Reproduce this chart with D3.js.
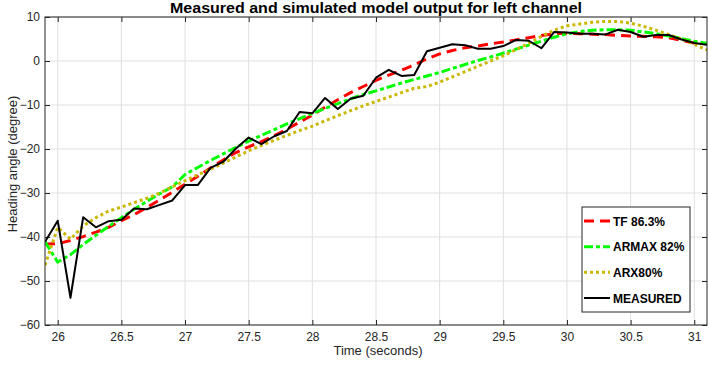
<!DOCTYPE html>
<html><head><meta charset="utf-8">
<script src="https://cdn.jsdelivr.net/npm/d3@7/dist/d3.min.js"></script>
<style>
body{margin:0;background:#fff;}
svg{display:block;font-family:"Liberation Sans",Arial,sans-serif;}
</style></head>
<body><svg id="c" width="709" height="366"></svg>
<script>
const time = [25.9,26.0,26.1,26.2,26.3,26.4,26.5,26.6,26.7,26.8,26.9,27.0,27.1,27.2,27.3,27.4,27.5,27.6,27.7,27.8,27.9,28.0,28.1,28.2,28.3,28.4,28.5,28.6,28.7,28.8,28.9,29.0,29.1,29.2,29.3,29.4,29.5,29.6,29.7,29.8,29.9,30.0,30.1,30.2,30.3,30.4,30.5,30.6,30.7,30.8,30.9,31.0,31.1];
const measured = [-41.1,-36.3,-53.8,-35.5,-37.8,-36.4,-36.1,-33.5,-33.7,-32.7,-31.7,-28.2,-28.2,-24.3,-22.9,-19.9,-17.4,-18.9,-17.1,-15.9,-11.6,-11.9,-8.4,-10.9,-8.6,-7.9,-3.8,-2.0,-3.4,-3.2,2.2,3.0,3.8,3.6,2.8,2.8,3.4,4.8,4.6,2.9,6.6,6.5,6.2,6.2,6.0,7.1,6.6,5.5,5.9,5.9,4.9,4.1,3.7];
const tf = [-41.6,-41.5,-40.8,-39.9,-38.9,-37.8,-36.3,-34.9,-33.3,-31.6,-29.8,-28.0,-26.2,-24.3,-22.5,-20.8,-19.5,-18.3,-17.0,-15.5,-13.9,-12.3,-10.5,-8.8,-7.2,-5.8,-4.4,-3.2,-2.1,-0.9,0.5,1.6,2.4,3.0,3.4,3.9,4.3,4.8,5.3,5.8,6.2,6.3,6.2,6.1,6.0,5.8,5.7,5.6,5.5,5.3,4.7,4.1,3.9];
const armax = [-41.1,-45.7,-44.0,-41.7,-39.6,-37.6,-35.6,-33.7,-31.9,-30.2,-28.6,-25.8,-24.2,-22.6,-21.1,-19.6,-18.2,-16.9,-15.6,-14.3,-13.1,-11.9,-10.8,-9.7,-8.6,-7.6,-6.8,-5.9,-5.0,-4.2,-3.4,-2.6,-1.7,-0.8,0.1,0.9,1.8,2.7,3.6,4.5,5.4,6.2,6.7,7.0,7.1,7.1,7.0,6.6,6.2,5.7,5.1,4.5,4.0];
const arx = [-46.4,-37.8,-40.5,-37.5,-35.6,-34.1,-33.2,-32.2,-31.2,-30.0,-28.6,-27.2,-25.9,-24.6,-23.2,-21.8,-20.4,-19.2,-18.0,-16.9,-15.8,-14.8,-13.6,-12.4,-11.3,-10.2,-9.2,-8.2,-7.2,-6.2,-5.8,-4.8,-3.6,-2.4,-1.2,0.0,1.2,2.6,4.0,5.6,7.0,8.0,8.4,8.8,9.0,9.0,8.6,7.9,7.0,6.0,5.0,3.8,2.5];
const xTicks = [26,26.5,27,27.5,28,28.5,29,29.5,30,30.5,31];
const xTickLabels = ["26","26.5","27","27.5","28","28.5","29","29.5","30","30.5","31"];
const yTicks = [-60,-50,-40,-30,-20,-10,0,10];
const seriesNames = ["TF 86.3%","ARMAX 82%","ARX80%","MEASURED"];
const titleText = "Measured and simulated model output for left channel";
const xLabel = "Time (seconds)";
const yLabel = "Heading angle (degree)";

const svg = d3.select("#c");
const L = 45, R = 707, T = 17, B = 325;
const x = d3.scaleLinear().domain([25.9, 31.1]).range([L, R]);
const y = d3.scaleLinear().domain([-60, 10]).range([B, T]);
const axisColor = "#262626";

// grid
const g = svg.append("g");
g.selectAll("line.vg").data(xTicks).join("line")
  .attr("x1", d => x(d)).attr("x2", d => x(d)).attr("y1", T).attr("y2", B)
  .attr("stroke", "#dfdfdf").attr("stroke-width", 1);
g.selectAll("line.hg").data(yTicks).join("line")
  .attr("x1", L).attr("x2", R).attr("y1", d => y(d)).attr("y2", d => y(d))
  .attr("stroke", "#dfdfdf").attr("stroke-width", 1);

// axes with inward ticks
const xAxisB = d3.axisBottom(x).tickValues(xTicks).tickFormat((d,i) => xTickLabels[i]).tickSizeInner(-5).tickSizeOuter(0).tickPadding(7);
const xAxisT = d3.axisTop(x).tickValues(xTicks).tickFormat("").tickSizeInner(-5).tickSizeOuter(0);
const yAxisL = d3.axisLeft(y).tickValues(yTicks).tickSizeInner(-5).tickSizeOuter(0).tickPadding(5);
const yAxisR = d3.axisRight(y).tickValues(yTicks).tickFormat("").tickSizeInner(-5).tickSizeOuter(0);
function style(sel){
  sel.select(".domain").remove();
  sel.selectAll("line").attr("stroke", axisColor);
  sel.selectAll("text").attr("fill", axisColor).style("font-size","12px").style("font-family","'Liberation Sans',Arial,sans-serif");
}
svg.append("g").attr("transform",`translate(0,${B})`).call(xAxisB).call(style);
svg.append("g").attr("transform",`translate(0,${T})`).call(xAxisT).call(style);
svg.append("g").attr("transform",`translate(${L},0)`).call(yAxisL).call(style);
svg.append("g").attr("transform",`translate(${R},0)`).call(yAxisR).call(style);

// lines
svg.append("clipPath").attr("id","clp").append("rect")
  .attr("x", L).attr("y", T).attr("width", R-L).attr("height", B-T);
const line = d3.line().x((d,i) => x(time[i])).y(d => y(d));
const specs = [
  {data: tf, color: "#ff0000", w: 3, dash: "10,6"},
  {data: armax, color: "#00ff00", w: 3, dash: "9,3,4,3"},
  {data: arx, color: "#c8b800", w: 3, dash: "3,3"},
  {data: measured, color: "#000000", w: 2, dash: null}
];
const lg = svg.append("g").attr("clip-path","url(#clp)");
specs.forEach(s => {
  lg.append("path").datum(s.data).attr("d", line)
    .attr("fill","none").attr("stroke", s.color).attr("stroke-width", s.w)
    .attr("stroke-dasharray", s.dash).attr("stroke-linejoin","round");
});

// frame
svg.append("rect").attr("x", L).attr("y", T).attr("width", R-L).attr("height", B-T)
  .attr("fill","none").attr("stroke", axisColor).attr("stroke-width", 1);

// title & labels
svg.append("text").attr("x", (L+R)/2).attr("y", 13).attr("text-anchor","middle")
  .style("font-size","14px").style("font-weight","bold").attr("fill","#000")
  .attr("textLength", 412).attr("lengthAdjust","spacingAndGlyphs").text(titleText);
svg.append("text").attr("x", 378).attr("y", 355).attr("text-anchor","middle")
  .style("font-size","13px").attr("fill", axisColor).text(xLabel);
svg.append("text").attr("transform","translate(17,164) rotate(-90)").attr("text-anchor","middle")
  .style("font-size","13px").attr("fill", axisColor).text(yLabel);

// legend
const lx = 582, ly = 207, lw = 108, lh = 105;
const leg = svg.append("g");
leg.append("rect").attr("x", lx).attr("y", ly).attr("width", lw).attr("height", lh)
  .attr("fill","#fff").attr("stroke", axisColor).attr("stroke-width", 1);
const legY = d3.scalePoint().domain(seriesNames).range([221, 298]);
seriesNames.forEach((n, i) => {
  const s = specs[i];
  leg.append("line").attr("x1", 584).attr("x2", 610).attr("y1", legY(n)).attr("y2", legY(n))
    .attr("stroke", s.color).attr("stroke-width", s.w).attr("stroke-dasharray", s.dash);
  leg.append("text").attr("x", 613).attr("y", legY(n) + 4.5)
    .style("font-size","12px").style("font-weight","bold").attr("fill","#000").text(n);
});
</script></body></html>
